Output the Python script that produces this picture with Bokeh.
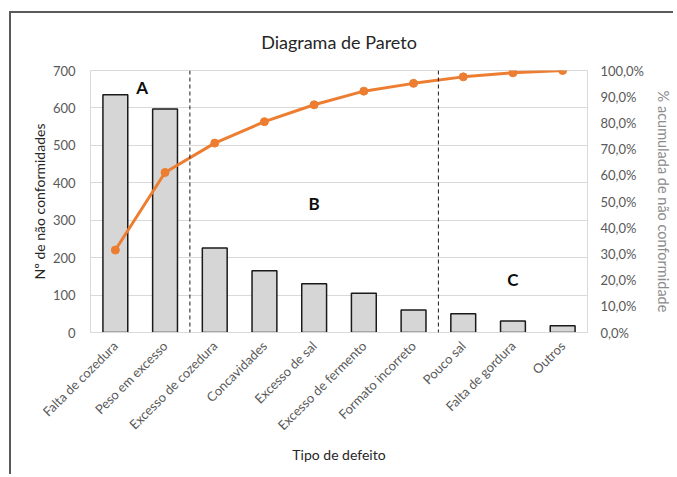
import numpy as np
from bokeh.plotting import figure
from bokeh.models import (FactorRange, Range1d, LinearAxis, FixedTicker, Span,
                          Label, ColumnDataSource)
from bokeh.embed import file_html
from bokeh.resources import INLINE

# Defect types and number of non-conformities
categories = ["Falta de cozedura", "Peso em excesso", "Excesso de cozedura",
              "Concavidades", "Excesso de sal", "Excesso de fermento",
              "Formato incorreto", "Pouco sal", "Falta de gordura", "Outros"]
counts = [635, 597, 226, 165, 130, 105, 60, 50, 31, 18]

left_ticks = [0, 100, 200, 300, 400, 500, 600, 700]
right_ticks = [0, 10, 20, 30, 40, 50, 60, 70, 80, 90, 100]

# Class boundaries (after the 2nd and 7th defect type) and class labels
class_bounds = [2, 7]
class_names = ["A", "B", "C"]
class_x = [1.04, 4.5, 8.5]
class_y = [655, 345, 142]

cum_pct = np.cumsum(counts) / np.sum(counts) * 100.0

FONT = "Lato"
GRAY = "#595959"
GRID = "#d9d9d9"
ORANGE = "#ED7D31"

src = ColumnDataSource(dict(cat=categories, n=counts, pct=cum_pct))

p = figure(width=664, height=463, x_range=FactorRange(*categories),
           y_range=Range1d(0, 700), output_backend="svg",
           toolbar_location=None, title="Diagrama de Pareto",
           min_border_left=79, min_border_top=57, min_border_right=87,
           min_border_bottom=144)
p.styles = {"margin-top": "11px", "margin-left": "9px",
            "border-top": "2px solid #5a5a5a", "border-left": "2px solid #5a5a5a",
            "border-right": "none", "border-bottom": "none"}

p.title.align = "center"
p.title.vertical_align = "top"
p.title.text_font = FONT
p.title.text_font_size = "18px"
p.title.text_font_style = "normal"
p.title.text_color = "#262626"
p.title.standoff = 32

p.outline_line_color = GRID
p.outline_line_width = 1
p.background_fill_color = "white"
p.border_fill_color = "white"

p.xgrid.grid_line_color = None
p.ygrid.grid_line_color = GRID
p.ygrid.ticker = FixedTicker(ticks=left_ticks)

# Left axis: counts
ax = p.yaxis[0]
ax.ticker = FixedTicker(ticks=left_ticks)
ax.axis_line_color = None
ax.major_tick_line_color = None
ax.minor_tick_line_color = None
ax.major_label_text_font = FONT
ax.major_label_text_font_size = "13px"
ax.major_label_text_color = GRAY
ax.major_label_standoff = 9
ax.axis_label = "Nº de não conformidades"
ax.axis_label_text_font = FONT
ax.axis_label_text_font_size = "14px"
ax.axis_label_text_font_style = "normal"
ax.axis_label_text_color = "#262626"
ax.axis_label_standoff = 2

# Bottom axis: defect types
bx = p.xaxis[0]
bx.axis_line_color = GRID
bx.major_tick_line_color = None
bx.minor_tick_line_color = None
bx.major_label_orientation = np.pi / 4
bx.major_label_text_font = FONT
bx.major_label_text_font_size = "13px"
bx.major_label_text_color = GRAY
bx.major_label_standoff = 5
bx.axis_label = "Tipo de defeito"
bx.axis_label_text_font = FONT
bx.axis_label_text_font_size = "14px"
bx.axis_label_text_font_style = "normal"
bx.axis_label_text_color = "#262626"
bx.axis_label_standoff = 4

# Right axis: cumulative percentage
p.extra_y_ranges = {"pct": Range1d(0, 100)}
rx = LinearAxis(y_range_name="pct", ticker=FixedTicker(ticks=right_ticks))
rx.major_label_overrides = {t: f"{t:.1f}%".replace(".", ",") for t in right_ticks}
rx.axis_line_color = None
rx.major_tick_line_color = None
rx.minor_tick_line_color = None
rx.major_label_text_font = FONT
rx.major_label_text_font_size = "13px"
rx.major_label_text_color = GRAY
rx.major_label_standoff = 7
rx.axis_label = "% acumulada de não conformidade"
rx.axis_label_text_font = FONT
rx.axis_label_text_font_size = "14.5px"
rx.axis_label_text_font_style = "normal"
rx.axis_label_text_color = "#8c8c8c"
rx.axis_label_standoff = 8
p.add_layout(rx, "right")

# Bars
p.vbar(x="cat", top="n", width=0.5, source=src, fill_color="#d6d6d6",
       line_color="#1a1a1a", line_width=1.5)

# Cumulative curve
p.line(x="cat", y="pct", source=src, y_range_name="pct", line_color=ORANGE,
       line_width=3)
p.scatter(x="cat", y="pct", source=src, y_range_name="pct", size=8,
          fill_color=ORANGE, line_color=ORANGE)

# Class separators
for b in class_bounds:
    p.add_layout(Span(location=b, dimension="height", line_color="#1a1a1a",
                      line_width=1, line_dash="4 3"))

for name, x, y in zip(class_names, class_x, class_y):
    p.add_layout(Label(x=x, y=y, text=name, text_font=FONT,
                       text_font_size="17px", text_font_style="bold",
                       text_color="#0d0d0d", text_align="center",
                       text_baseline="middle"))

open("out.html", "w").write(file_html(p, INLINE))
